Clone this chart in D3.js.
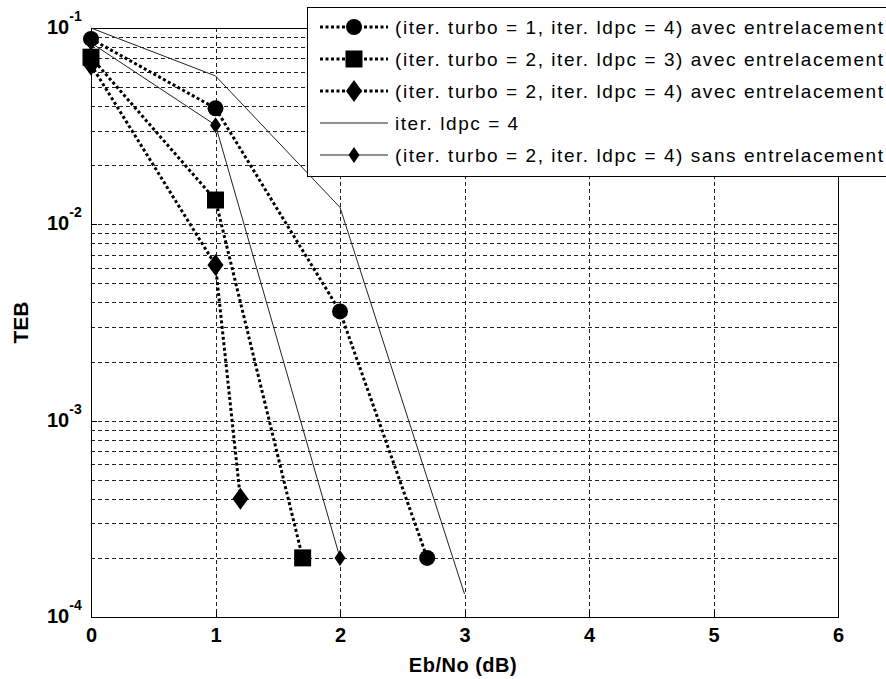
<!DOCTYPE html>
<html>
<head>
<meta charset="utf-8">
<script src="https://cdn.jsdelivr.net/npm/d3@7"></script>
<style>
  body { margin: 0; background: #fff; }
  svg { display: block; font-family: "Liberation Sans", Arial, sans-serif; }
</style>
</head>
<body>
<svg id="chart" width="886" height="679"></svg>
<script>
// ---- Data ----
const xTicks = [0, 1, 2, 3, 4, 5, 6];
const yDecades = [-4, -3, -2, -1];

const s1x = [0, 1, 2, 2.7];
const s1y = [0.088, 0.039, 0.0036, 0.0002];   // turbo=1, ldpc=4 avec (circle, dotted)

const s2x = [0, 1, 1.7];
const s2y = [0.071, 0.0133, 0.0002];          // turbo=2, ldpc=3 avec (square, dotted)

const s3x = [0, 1, 1.2];
const s3y = [0.065, 0.0062, 0.0004];          // turbo=2, ldpc=4 avec (diamond, dotted)

const s4x = [0, 1, 2, 3];
const s4y = [0.1, 0.057, 0.0122, 0.000131];   // iter. ldpc = 4 (solid)

const s5x = [0, 1, 2];
const s5y = [0.084, 0.032, 0.0002];           // turbo=2, ldpc=4 sans (diamond, solid)

const legendLabels = [
  "(iter. turbo = 1, iter. ldpc = 4) avec entrelacement",
  "(iter. turbo = 2, iter. ldpc = 3) avec entrelacement",
  "(iter. turbo = 2, iter. ldpc = 4) avec entrelacement",
  "iter. ldpc = 4",
  "(iter. turbo = 2, iter. ldpc = 4) sans entrelacement"
];
const xLabel = "Eb/No (dB)";
const yLabel = "TEB";

// ---- Layout ----
const L = 91, R = 838, T = 28, B = 617;
const svg = d3.select("#chart");
const x = d3.scaleLinear().domain([0, 6]).range([L, R]);
const y = d3.scaleLog().domain([1e-4, 1e-1]).range([B, T]);

// ---- Grid ----
const grid = svg.append("g").attr("stroke", "#222").attr("stroke-width", 1)
  .attr("stroke-dasharray", "4,3").attr("shape-rendering", "crispEdges");
xTicks.filter(v => v > 0 && v < 6).forEach(v => {
  grid.append("line").attr("x1", Math.round(x(v)) + 0.5).attr("x2", Math.round(x(v)) + 0.5)
    .attr("y1", T).attr("y2", B);
});
const yGridVals = [];
for (let d = -4; d < -1; d++) for (let m = 1; m <= 9; m++) {
  const v = m * Math.pow(10, d);
  if (v > 1e-4 * 1.0001) yGridVals.push(v);
}
yGridVals.forEach(v => {
  grid.append("line").attr("x1", L).attr("x2", R)
    .attr("y1", Math.round(y(v)) + 0.5).attr("y2", Math.round(y(v)) + 0.5);
});

// ---- Axes box ----
svg.append("rect").attr("x", L + 0.5).attr("y", T + 0.5).attr("width", R - L).attr("height", B - T)
  .attr("fill", "none").attr("stroke", "#000").attr("stroke-width", 1).attr("shape-rendering", "crispEdges");

// x axis via d3 axis (labels only)
const xAxis = d3.axisBottom(x).tickValues(xTicks).tickSize(0).tickPadding(0).tickFormat(d3.format("d"));
const xg = svg.append("g").attr("transform", `translate(0,${B})`).call(xAxis);
xg.select(".domain").remove();
xg.selectAll("text").attr("dy", null).attr("y", 25)
  .attr("font-size", 20).attr("font-weight", "bold").attr("fill", "#000")
  .attr("font-family", "'Liberation Sans', Arial, sans-serif");

// y tick labels: 10^k
const yg = svg.append("g");
yDecades.forEach(k => {
  const yy = y(Math.pow(10, k));
  const t = yg.append("text").attr("x", 47).attr("y", yy + 6)
    .attr("font-size", 20).attr("font-weight", "bold").attr("fill", "#000");
  t.append("tspan").text("10");
  t.append("tspan").attr("dy", -13).attr("font-size", 14).text(String(k));
});

// tick marks (inward, small)
const ticks = svg.append("g").attr("stroke", "#000").attr("shape-rendering", "crispEdges");
xTicks.forEach(v => {
  ticks.append("line").attr("x1", Math.round(x(v)) + 0.5).attr("x2", Math.round(x(v)) + 0.5)
    .attr("y1", B).attr("y2", B - 6);
});
yDecades.forEach(k => {
  const yy = Math.round(y(Math.pow(10, k))) + 0.5;
  ticks.append("line").attr("x1", L).attr("x2", L + 6).attr("y1", yy).attr("y2", yy);
});

// Axis labels
svg.append("text").attr("x", 463).attr("y", 672).attr("text-anchor", "middle")
  .attr("font-size", 20).attr("font-weight", "bold").attr("letter-spacing", 0.5).text(xLabel);
svg.append("text").attr("transform", `translate(28,${(T + B) / 2}) rotate(-90)`)
  .attr("text-anchor", "middle").attr("font-size", 21).attr("font-weight", "bold").text(yLabel);

// ---- Series ----
const line = d3.line().x(d => x(d[0])).y(d => y(d[1]));
const zip = (a, b) => a.map((v, i) => [v, b[i]]);

const dotted = { stroke: "#000", width: 3, dash: "3,2.5" };
const solid = { stroke: "#222", width: 1, dash: null };

const series = [
  { data: zip(s1x, s1y), style: dotted, marker: "circle" },
  { data: zip(s2x, s2y), style: dotted, marker: "square" },
  { data: zip(s3x, s3y), style: dotted, marker: "diamond" },
  { data: zip(s4x, s4y), style: solid, marker: null },
  { data: zip(s5x, s5y), style: solid, marker: "smalldiamond" }
];

function drawMarker(g, type, cx, cy) {
  if (type === "circle") {
    g.append("circle").attr("cx", cx).attr("cy", cy).attr("r", 8).attr("fill", "#000");
  } else if (type === "square") {
    g.append("rect").attr("x", cx - 8.5).attr("y", cy - 8.5).attr("width", 17).attr("height", 17).attr("fill", "#000");
  } else if (type === "diamond") {
    g.append("path").attr("d", `M${cx},${cy - 11}L${cx + 8},${cy}L${cx},${cy + 11}L${cx - 8},${cy}Z`).attr("fill", "#000");
  } else if (type === "smalldiamond") {
    g.append("path").attr("d", `M${cx},${cy - 8}L${cx + 5.5},${cy}L${cx},${cy + 8}L${cx - 5.5},${cy}Z`).attr("fill", "#000");
  }
}

const plot = svg.append("g");
series.forEach(s => {
  const g = plot.append("g");
  g.append("path").attr("d", line(s.data)).attr("fill", "none")
    .attr("stroke", s.style.stroke).attr("stroke-width", s.style.width)
    .attr("stroke-dasharray", s.style.dash);
  if (s.marker) s.data.forEach(d => drawMarker(g, s.marker, x(d[0]), y(d[1])));
});

// ---- Legend ----
const lg = svg.append("g");
lg.append("rect").attr("x", 307.5).attr("y", 7.5).attr("width", 590).attr("height", 169)
  .attr("fill", "#fff").attr("stroke", "#000").attr("stroke-width", 1).attr("shape-rendering", "crispEdges");
series.forEach((s, i) => {
  const cy = 27 + i * 32;
  lg.append("line").attr("x1", 320).attr("x2", 388).attr("y1", cy).attr("y2", cy)
    .attr("stroke", s.style.stroke).attr("stroke-width", s.style.width)
    .attr("stroke-dasharray", s.style.dash);
  if (s.marker) drawMarker(lg, s.marker, 354, cy);
  lg.append("text").attr("x", 395).attr("y", cy).attr("dy", "0.35em")
    .attr("font-size", 19).attr("fill", "#000").attr("class", "legtext").text(legendLabels[i]);
});
// fit the long rows to the reference width via uniform letter spacing
const first = lg.select(".legtext").node();
const w = first.getComputedTextLength();
const n = legendLabels[0].length;
const ls = Math.max(0, (488 - w) / (n - 1));
lg.selectAll(".legtext").attr("letter-spacing", ls);
</script>
</body>
</html>
